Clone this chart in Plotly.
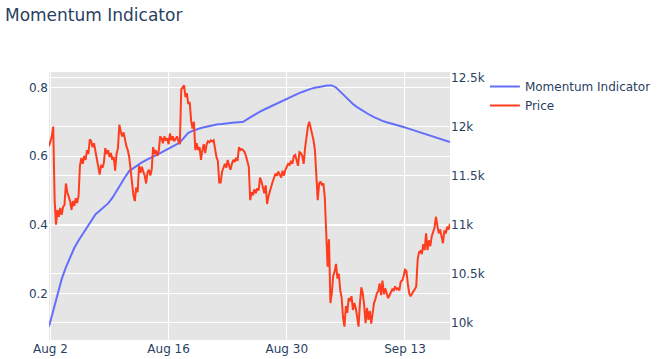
import pandas as pd
import plotly.graph_objects as go

# ---- data ----
price_start = "2020-08-01 20:00"
price_step = "4h"
price = [
    11800, 11860, 11900, 12000, 11250, 11000, 11150, 11080, 11170, 11100,
    11180, 11200, 11420, 11330, 11280, 11240, 11150, 11240, 11190, 11270,
    11220, 11290, 11600, 11680, 11620, 11700, 11660, 11760, 11720, 11870,
    11850, 11790, 11830, 11740, 11680, 11600, 11510, 11610, 11580, 11630,
    11780, 11720, 11760, 11690, 11730, 11660, 11690, 11550, 11720, 11780,
    12020, 11950, 11900, 11940, 11860, 11800, 11760, 11690, 11560, 11420,
    11300, 11240, 11380, 11330, 11600, 11530, 11590, 11540, 11500, 11420,
    11530, 11560, 11500, 11560, 11790, 11720, 11760, 11700, 11750, 11900,
    11880, 11830, 11900, 11860, 11880, 11820, 11930, 11860, 11900, 11850,
    11880, 11900, 11850, 11820, 12380, 12400, 12420, 12300, 12340, 12230,
    12250, 12060, 11980, 12050, 11760, 11830, 11760, 11790, 11660, 11760,
    11820, 11730, 11820, 11850, 11840, 11860, 11850, 11860, 11760, 11690,
    11650, 11430, 11430, 11540, 11580, 11620, 11580, 11660, 11600, 11560,
    11620, 11660, 11640, 11680, 11650, 11790, 11760, 11770, 11760, 11740,
    11700, 11640, 11590, 11250, 11330, 11300, 11360, 11320, 11370, 11350,
    11480, 11440, 11380, 11320, 11400, 11210, 11290, 11350, 11400, 11440,
    11480, 11520, 11500, 11540, 11510, 11480, 11550, 11500, 11560, 11590,
    11620, 11610, 11650, 11620, 11700, 11710, 11660, 11600, 11740, 11730,
    11700, 11620, 11780, 11890, 12000, 12050, 11990, 11950, 11860, 11760,
    11520, 11250, 11420, 11440, 11400, 11420, 11280, 10940, 10570, 10850,
    10200, 10300, 10480, 10520, 10600, 10450, 10500, 10330, 10250, 10050,
    9960, 10170, 10100, 10250, 10220, 10270, 10130, 10200, 10150, 10060,
    9960, 10200, 10360, 10300, 10180, 9995, 10150, 10030, 10120, 9990,
    10120, 10200, 10240, 10300, 10320, 10400, 10280, 10430, 10290, 10350,
    10300, 10250, 10280, 10320, 10340, 10330, 10370, 10340, 10350, 10330,
    10420, 10430, 10470, 10540, 10530, 10400, 10300, 10270, 10300, 10320,
    10340, 10370, 10640, 10720, 10730, 10700, 10800, 10740, 10910, 10740,
    10840, 10780, 10880, 10940, 10970, 11080, 11010, 10910, 10950, 10880,
    10810, 10940, 10910, 10980, 10950, 11010,
]

momentum_start = "2020-08-01 20:00"
momentum_step = "12h"
momentum = [
    0.105, 0.152, 0.203, 0.243, 0.277, 0.308, 0.334, 0.355, 0.375, 0.394,
    0.413, 0.431, 0.442, 0.453, 0.463, 0.479, 0.500, 0.520, 0.539, 0.557,
    0.566, 0.574, 0.582, 0.589, 0.596, 0.601, 0.607, 0.613, 0.619, 0.626,
    0.633, 0.640, 0.655, 0.668, 0.674, 0.679, 0.682, 0.685, 0.688, 0.690,
    0.693, 0.694, 0.696, 0.697, 0.698, 0.699, 0.700, 0.708, 0.716, 0.723,
    0.730, 0.736, 0.742, 0.748, 0.754, 0.760, 0.766, 0.772, 0.777, 0.782,
    0.787, 0.792, 0.796, 0.799, 0.802, 0.804, 0.806, 0.806, 0.800, 0.788,
    0.775, 0.763, 0.752, 0.743, 0.735, 0.727, 0.720, 0.714, 0.708, 0.703,
    0.699, 0.696, 0.692, 0.689, 0.685, 0.681, 0.677, 0.673, 0.669, 0.664,
    0.660, 0.655, 0.651, 0.647, 0.644, 0.641,
]

price_dates = pd.date_range(price_start, periods=len(price), freq=price_step)
momentum_dates = pd.date_range(momentum_start, periods=len(momentum), freq=momentum_step)

fig = go.Figure()
fig.add_trace(go.Scatter(
    x=momentum_dates, y=momentum, mode="lines", name="Momentum Indicator",
    line=dict(color="#636EFA", width=2), yaxis="y",
))
fig.add_trace(go.Scatter(
    x=price_dates, y=price, mode="lines", name="Price",
    line=dict(color="#FF3C1E", width=2), yaxis="y2",
))

fig.update_layout(
    template="plotly",
    width=657, height=359,
    autosize=False,
    font=dict(family="DejaVu Sans", color="#2a3f5f"),
    margin=dict(l=49, r=207, t=72, b=19, autoexpand=False),
    title=dict(text="Momentum Indicator", x=0.0076, xanchor="left",
               y=0.958, yanchor="middle", font=dict(size=17)),
    plot_bgcolor="#E5E5E5",
    paper_bgcolor="white",
    xaxis=dict(type="date", tick0="2020-08-02", dtick=14 * 86400000,
               tickformat="%b %-d", gridcolor="white", showline=False,
               automargin=False),
    yaxis=dict(gridcolor="white", zeroline=False, automargin=False),
    yaxis2=dict(overlaying="y", side="right", gridcolor="white",
                zeroline=False, dtick=500, automargin=False),
    legend=dict(x=1.087, xanchor="left", y=1, yanchor="top"),
)

fig.write_html(
    "out.html",
    config={"displayModeBar": False},
    post_script="document.body.style.margin='0';document.body.style.overflow='hidden';",
)
